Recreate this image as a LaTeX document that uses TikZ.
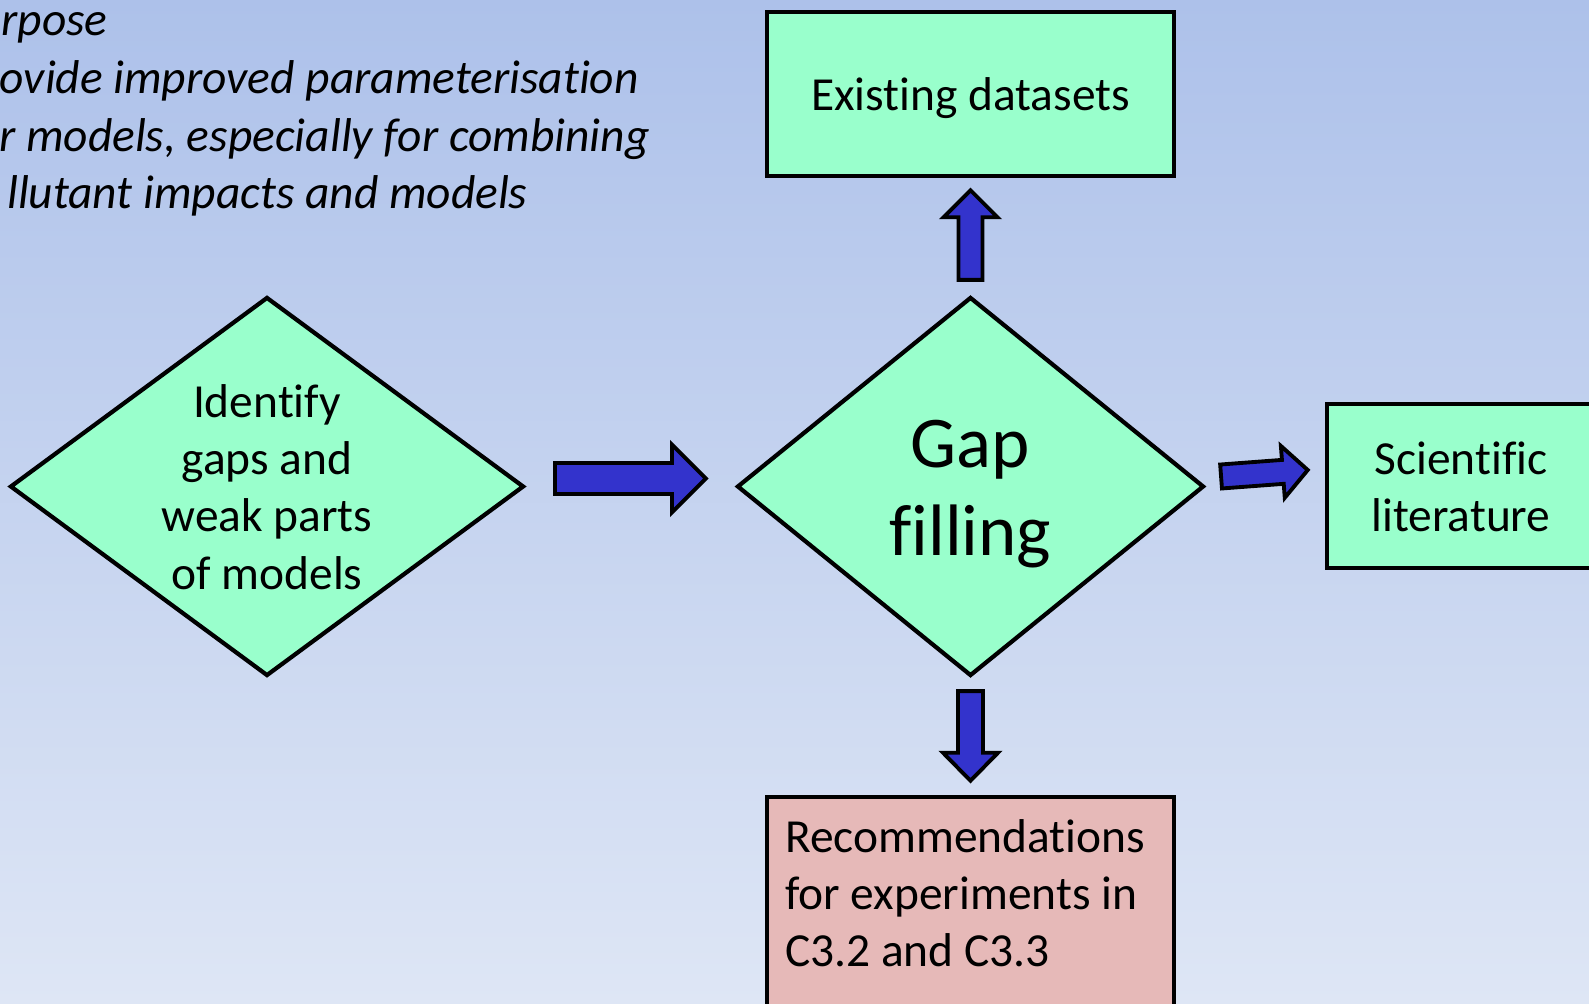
\documentclass[tikz,border=0pt]{standalone}
\usepackage{fontspec}
\setmainfont{Carlito}[Ligatures=NoCommon]
\usetikzlibrary{shapes.geometric,calc}
\definecolor{mint}{RGB}{153,255,204}
\definecolor{pinkbox}{RGB}{230,185,184}
\definecolor{arrowblue}{RGB}{51,51,204}
\definecolor{bgtop}{RGB}{173,193,234}
\definecolor{bgbot}{RGB}{222,230,245}
\newcommand\blockarrow[5]{%
  \draw[barrow] ($(#1)!#3!90:(#2)$) -- ($(#2)!#5!(#1)!#3!90:(#2)$) -- ($(#2)!#5!(#1)!#4!90:(#2)$) -- (#2)
   -- ($(#2)!#5!(#1)!#4!-90:(#2)$) -- ($(#2)!#5!(#1)!#3!-90:(#2)$) -- ($(#1)!#3!-90:(#2)$) -- cycle;}
\begin{document}
\begin{tikzpicture}[x=0.02cm,y=-0.02cm,
  boxstyle/.style={rectangle,draw=black,line width=2.6pt,fill=mint,inner sep=0pt,align=center,font=\fontsize{27}{32.6}\selectfont},
  diastyle/.style={diamond,draw=black,line width=2.4pt,fill=mint,inner sep=0pt},
  txt/.style={inner sep=0pt,align=center,font=\fontsize{27}{32.6}\selectfont},
  bigtxt/.style={inner sep=0pt,align=center,font=\fontsize{41.5}{50}\selectfont},
  ital/.style={inner sep=0pt,anchor=base east,font=\fontsize{27}{33}\selectfont\itshape},
  barrow/.style={draw=black,line width=2.2pt,fill=arrowblue,line join=miter}]
\useasboundingbox (0,0) rectangle (1589,1004);
\clip (0,0) rectangle (1589,1004);
\shade[top color=bgtop,bottom color=bgbot] (0,0) rectangle (1589,1004);

% top-left text
\node[ital] (t1) at (108,35) {rpose};
\node[ital] (t2) at (639,93) {ovide improved parameterisation};
\node[ital] (t3) at (650,151) {r models, especially for combining};
\node[ital] (t4) at (528,208) {llutant impacts and models};

% shapes
\node[boxstyle,minimum width=8.14cm,minimum height=3.28cm] (ex) at (970.5,94) {};
\node[txt] (extext) at (970.5,98) {Existing datasets};
\node[diastyle,minimum width=10.28cm,minimum height=7.58cm] (iden) at (267,486.5) {};
\node[txt] (identext) at (267,487) {Identify\\gaps and\\weak parts\\of models};
\node[diastyle,minimum width=9.34cm,minimum height=7.58cm] (gap) at (970.5,486.5) {};
\node[bigtxt] (gaptext) at (970.5,494.5) {Gap\\filling};
\node[boxstyle,minimum width=5.36cm,minimum height=3.28cm] (sci) at (1461,486) {};
\node[txt] (scitext) at (1461,487) {Scientific\\literature};
\node[boxstyle,fill=pinkbox,minimum width=8.14cm,minimum height=4.8cm] (rec) at (970.5,917) {};
\node[txt,align=left,anchor=north west] (rectext) at ($(rec.north west)+(20,24)$) {Recommendations\\for experiments in\\C3.2 and C3.3};

% block arrows
\coordinate (u1) at ($(gap.north)+(0,-15)$);
\coordinate (u2) at ($(ex.south)+(0,12)$);
\coordinate (d1) at ($(gap.south)+(0,13)$);
\coordinate (d2) at ($(rec.north)+(0,-14)$);
\coordinate (r1) at ($(iden.east)+(29,-8)$);
\coordinate (r2) at ($(gap.west)+(-29,-8)$);
\coordinate (s1) at ($(gap.east)+(15,-10)$);
\coordinate (s2) at ($(sci.west)+(-17,-16)$);
\blockarrow{u1}{u2}{0.24cm}{0.54cm}{0.54cm}
\blockarrow{d1}{d2}{0.25cm}{0.55cm}{0.56cm}
\blockarrow{r1}{r2}{0.31cm}{0.68cm}{0.68cm}
\blockarrow{s1}{s2}{0.24cm}{0.52cm}{0.5cm}
\end{tikzpicture}
\end{document}
